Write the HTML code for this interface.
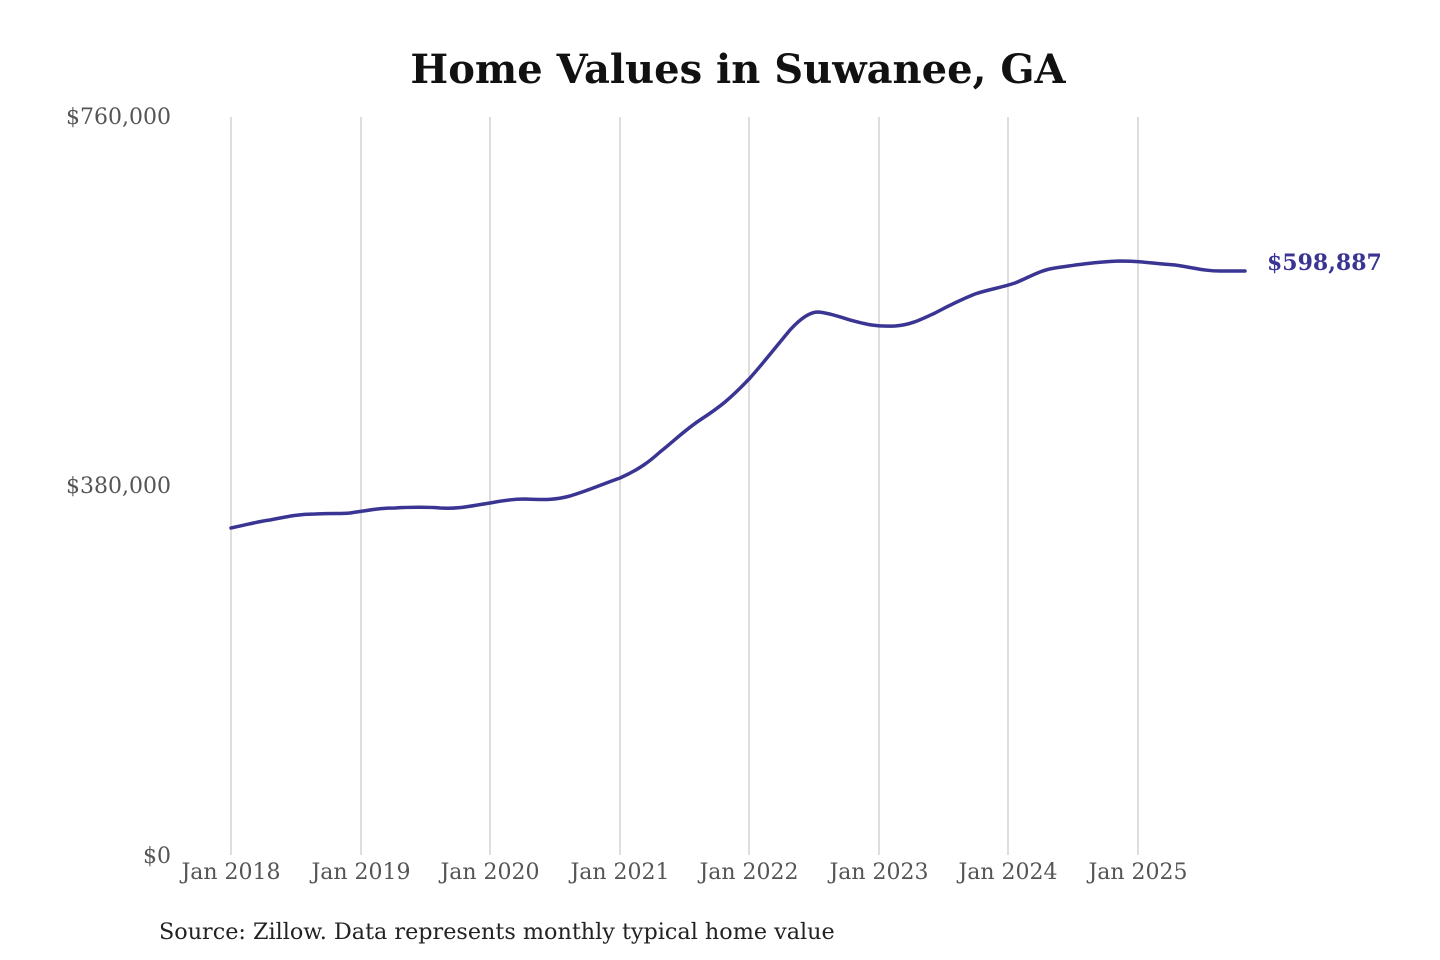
<!DOCTYPE html>
<html><head><meta charset="utf-8"><style>
html,body{margin:0;padding:0;background:#fff;}
svg{display:block;font-family:"DejaVu Serif","Liberation Serif",serif;}
</style></head><body>
<svg width="1440" height="960" viewBox="0 0 1440 960" xmlns="http://www.w3.org/2000/svg">
<rect width="1440" height="960" fill="#fff"/>
<text x="738" y="83" text-anchor="middle" font-size="40" font-weight="bold" fill="#111">Home Values in Suwanee, GA</text>
<g stroke="#c8c8c8" stroke-width="1.2">
<line x1="231" y1="117" x2="231" y2="855"/>
<line x1="361" y1="117" x2="361" y2="855"/>
<line x1="490" y1="117" x2="490" y2="855"/>
<line x1="620" y1="117" x2="620" y2="855"/>
<line x1="749" y1="117" x2="749" y2="855"/>
<line x1="879" y1="117" x2="879" y2="855"/>
<line x1="1008" y1="117" x2="1008" y2="855"/>
<line x1="1138" y1="117" x2="1138" y2="855"/>
</g>
<g font-size="22" fill="#555" text-anchor="end">
<text x="171" y="124">$760,000</text>
<text x="171" y="493">$380,000</text>
<text x="171" y="863">$0</text>
</g>
<g font-size="22" fill="#555" text-anchor="middle">
<text x="231" y="879">Jan 2018</text>
<text x="361" y="879">Jan 2019</text>
<text x="490" y="879">Jan 2020</text>
<text x="620" y="879">Jan 2021</text>
<text x="749" y="879">Jan 2022</text>
<text x="879" y="879">Jan 2023</text>
<text x="1008" y="879">Jan 2024</text>
<text x="1138" y="879">Jan 2025</text>
</g>
<path fill="none" stroke="#3a3593" stroke-width="3.5" stroke-linejoin="round" stroke-linecap="round"
d="M231,528 C250,524 260,521 270,520 C290,516 300,514 315,514 C335,513 340,514 350,513 C370,510 380,508 395,508 C410,507 430,507 440,508 C460,509 470,506 490,503 C505,500 515,499 525,499 C545,500 555,500 570,496 C590,490 600,485 620,478 C640,469 650,461 660,452 C675,440 685,430 700,420 C720,407 730,399 750,378 C765,361 775,348 790,330 C800,319 810,312 818,312 C830,313 840,317 850,320 C865,324 875,327 895,326 C910,325 920,320 935,313 C950,305 960,300 975,294 C990,289 1000,288 1015,283 C1030,277 1040,270 1055,268 C1075,265 1095,262 1120,261 C1140,261 1150,263 1175,265 C1195,268 1205,271 1220,271 C1230,271 1240,271 1245,271"/>
<text x="1267" y="270" font-size="22" font-weight="bold" fill="#3a3593">$598,887</text>
<text x="159" y="939" font-size="22.3" fill="#222">Source: Zillow. Data represents monthly typical home value</text>
</svg>
</body></html>
